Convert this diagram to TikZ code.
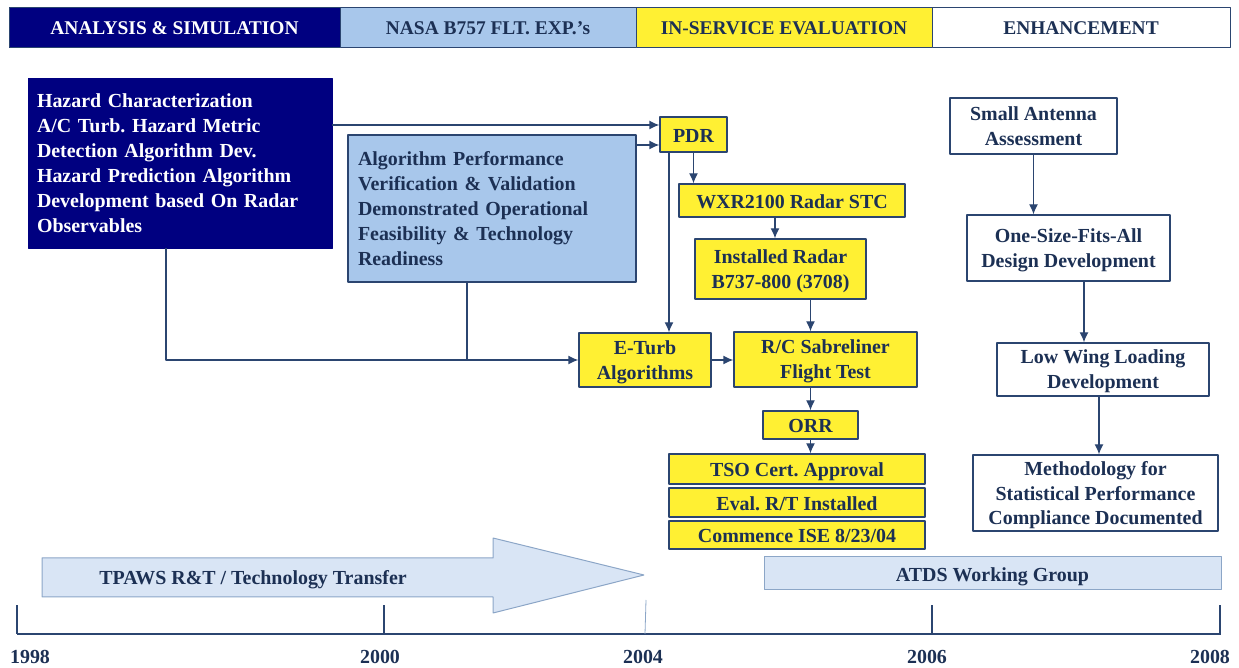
\documentclass[tikz,border=0pt]{standalone}
\usepackage{fontspec}
\setmainfont{Liberation Serif}
\usepackage{tikz}
\usetikzlibrary{arrows.meta}
\frenchspacing

\begin{document}
\begin{tikzpicture}[>={Latex[length=10bp,width=9bp]},join=bevel,
  txt/.style={font=\bfseries\fontsize{20}{25}\selectfont},
  ybox/.style={txt,draw=c5,fill=c3,line width=1.3bp,inner sep=0pt,align=center,text=c4,text depth=0bp},
  wbox/.style={ybox,fill=white},
  oneline/.style={text height=16bp,text depth=0bp},
  bar/.style={draw=c5,line width=1bp,inner sep=0pt,minimum height=40bp,text=c4,font=\bfseries\fontsize{19.5}{23}\selectfont},
  link/.style={->,draw=c5,line width=1.3bp}]
%%
%%
\definecolor{c1}{rgb}{0.00,0.00,0.50}%
\definecolor{c2}{rgb}{0.66,0.78,0.92}%
\definecolor{c3}{rgb}{1.00,0.94,0.20}%
\definecolor{c4}{rgb}{0.11,0.19,0.33}%
\definecolor{c5}{rgb}{0.17,0.27,0.44}%
\definecolor{c6}{rgb}{0.85,0.90,0.96}%
\definecolor{c7}{rgb}{0.55,0.65,0.78}%
%
\useasboundingbox (0bp,0bp) rectangle (1239bp,668bp);
%
\begin{scope}
  \node (b1) at (174.5bp,640bp) [bar,fill=c1,text=white,minimum width=331bp] {ANALYSIS \& SIMULATION};
  \node (b2) at (488bp,640bp) [bar,fill=c2,minimum width=296bp] {NASA B757 FLT. EXP.’s};
  \node (b3) at (784bp,640bp) [bar,fill=c3,minimum width=296bp] {IN-SERVICE EVALUATION};
  \node (b4) at (1081bp,640bp) [bar,fill=white,minimum width=298bp] {ENHANCEMENT};
\end{scope}
  \node (1) at (180bp,505bp) [txt,draw=c1,fill=c1,text=white,align=left,text width=286bp,inner sep=9bp,minimum height=170bp]
    {Hazard Characterization\\A/C Turb. Hazard Metric\\Detection Algorithm Dev.\\Hazard Prediction Algorithm\\Development based On Radar\\Observables};
  \node (2) at (492bp,459.5bp) [txt,draw=c5,line width=1.3bp,fill=c2,text=c4,align=left,text width=268bp,inner sep=10bp,minimum height=147bp]
    {Algorithm Performance\\Verification \& Validation\\Demonstrated Operational\\Feasibility \& Technology\\Readiness};
  \node (3) at (693.5bp,533.5bp) [ybox,oneline,minimum width=67bp,minimum height=35bp] {PDR};
  \node (4) at (792bp,467.5bp) [ybox,oneline,minimum width=226bp,minimum height=33bp] {WXR2100 Radar STC};
  \node (5) at (780.5bp,399bp) [ybox,minimum width=171bp,minimum height=60bp] {Installed Radar\\B737-800 (3708)};
  \node (6) at (645bp,308bp) [ybox,minimum width=132bp,minimum height=54bp] {E-Turb\\Algorithms};
  \node (7) at (825.5bp,308.5bp) [ybox,minimum width=183bp,minimum height=55bp] {R/C Sabreliner\\Flight Test};
  \node (8) at (810.5bp,243bp) [ybox,oneline,minimum width=95bp,minimum height=28bp] {ORR};
  \node (9) at (797bp,199bp) [ybox,oneline,minimum width=256bp,minimum height=30bp] {TSO Cert. Approval};
  \node (10) at (797bp,165.5bp) [ybox,oneline,minimum width=256bp,minimum height=29bp] {Eval. R/T Installed};
  \node (11) at (797bp,133bp) [ybox,oneline,minimum width=256bp,minimum height=28bp] {Commence ISE 8/23/04};

  \node (12) at (1033.5bp,542bp) [wbox,minimum width=167bp,minimum height=56bp] {Small Antenna\\Assessment};
  \node (13) at (1068.5bp,420bp) [wbox,minimum width=203bp,minimum height=66bp] {One-Size-Fits-All\\Design Development};
  \node (14) at (1103bp,298.5bp) [wbox,minimum width=212bp,minimum height=53bp] {Low Wing Loading\\Development};
  \node (15) at (1095.5bp,175bp) [wbox,minimum width=245bp,minimum height=76bp] {Methodology for\\Statistical Performance\\Compliance Documented};

  \node (16) at (992.5bp,94.5bp) [ybox,oneline,fill=c6,draw=c7,line width=1bp,minimum width=457bp,minimum height=33bp] {ATDS Working Group};

  \coordinate (1a) at ([yshift=9.5bp]3.west);
  \coordinate (2a) at ([yshift=-10.5bp]3.west);
  \coordinate (3a) at ([xshift=-24.5bp]3.south);
  \coordinate (4a) at ([xshift=-17bp]4.south);
  \coordinate (1b) at ([xshift=-14bp]1.south);
  \coordinate (2b) at ([xshift=-25bp]2.south);
  \coordinate (13a) at ([xshift=15.5bp]13.south);
  \coordinate (14a) at ([xshift=-4bp]14.south);

  \draw[link] (1.east |- 1a) -- (1a);
  \draw[link] (2.east |- 2a) -- (2a);
  \draw[link] (3a) -- (3a |- 6.north);
  \draw[link] (3.south) -- (3.south |- 4.north);
  \draw[link] (4a) -- (4a |- 5.north);
  \draw[link] (8.north |- 5.south) -- (8.north |- 7.north);
  \draw[link] (8.north |- 7.south) -- (8.north);
  \draw[link] (8.south) -- (8.south |- 9.north);
  \draw[link] (1b) |- (6.west);
  \draw[link,-] (2b) -- (2b |- 6.west);
  \draw[link] (6.east) -- (6.east -| 7.west);

  \draw[link] (12.south) -- (12.south |- 13.north);
  \draw[link] (13a) -- (13a |- 14.north);
  \draw[link] (14a) -- (14a |- 15.north);

%  transfer arrow
  \draw[fill=c6,draw=c7,line width=1bp] (42bp,110bp) -- (493bp,110bp) -- (493bp,130bp) -- (644bp,93bp)
    -- (493bp,55bp) -- (493bp,71bp) -- (42bp,71bp) -- cycle;
  \node (17) at (253bp,91bp) [txt,oneline,text=c4] {TPAWS R\&T / Technology Transfer};

%  time line
  \draw[c5,line width=1.3bp] (17bp,34bp) -- (1221bp,34bp);
  \foreach \x/\yr/\lx in {17/1998/30,384/2000/380,932/2006/927,1220/2008/1210} {
    \draw[c5,line width=1.3bp] (\x bp,34bp) -- (\x bp,63bp);
    \node (y\yr) at (\lx bp,11bp) [txt,text=c4] {\yr};
  }
  \draw[c7,line width=0.8bp] (645bp,34bp) -- (646bp,68bp);
  \node (y2004) at (643bp,11bp) [txt,text=c4] {2004};
%
\end{tikzpicture}
\end{document}
